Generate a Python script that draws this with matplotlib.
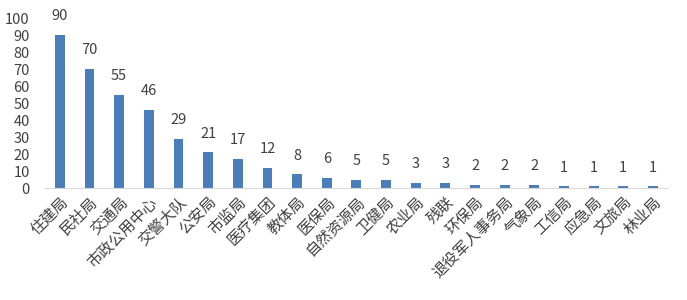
import matplotlib
matplotlib.use("Agg")
import matplotlib.pyplot as plt

plt.rcParams['font.family'] = ['Noto Sans CJK SC', 'DejaVu Sans']

categories = ["住建局", "民社局", "交通局", "市政公用中心", "交警大队", "公安局", "市监局", "医疗集团",
              "教体局", "医保局", "自然资源局", "卫健局", "农业局", "残联", "环保局", "退役军人事务局",
              "气象局", "工信局", "应急局", "文旅局", "林业局"]
values = [90, 70, 55, 46, 29, 21, 17, 12, 8, 6, 5, 5, 3, 3, 2, 2, 2, 1, 1, 1, 1]
yticks = [0, 10, 20, 30, 40, 50, 60, 70, 80, 90, 100]

fig = plt.figure(figsize=(6.87, 3.0), dpi=100)
ax = fig.add_axes([0.0655, 0.373, 0.9065, 0.567])
x = list(range(len(categories)))
bars = ax.bar(x, values, width=0.33, color="#4a7ebb")
for xi, v in zip(x, values):
    ax.text(xi, v + 11, str(v), ha="center", va="center", fontsize=10.5, color="#404040")
ax.set_xlim(-0.5, len(categories) - 0.5)
ax.set_ylim(0, 100)
ax.set_yticks(yticks)
ax.set_yticklabels([str(t) for t in yticks], fontsize=10.5, color="#404040")
ax.set_xticks(x)
ax.set_xticklabels(categories, rotation=45, ha="right", rotation_mode="anchor", fontsize=11, color="#404040")
for s in ["top", "right", "left"]:
    ax.spines[s].set_visible(False)
ax.spines["bottom"].set_color("#d9d9d9")
ax.tick_params(axis="both", length=0)
ax.tick_params(axis="x", pad=4)
ax.tick_params(axis="y", pad=11)
fig.savefig("out.png", dpi=100)
